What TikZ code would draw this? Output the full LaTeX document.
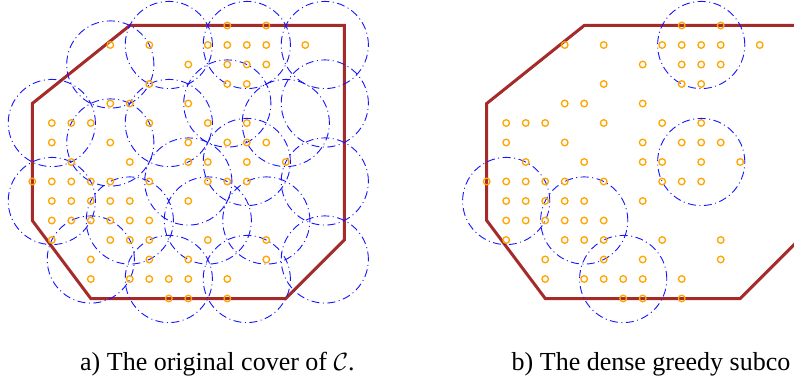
\documentclass[tikz,border=0pt]{standalone}
\usepackage{fontspec}
\setmainfont{Liberation Serif}
\definecolor{ptorange}{RGB}{255,165,0}
\definecolor{polyred}{RGB}{165,42,42}
\definecolor{covblue}{RGB}{20,20,255}
\begin{document}
\begin{tikzpicture}[x=1pt,y=-1pt,
  ptmark/.style={draw=ptorange, line width=1.3pt},
  cov/.style={draw=covblue, line width=0.9pt, dash pattern=on 8pt off 3.5pt on 1pt off 3.5pt},
  poly/.style={draw=polyred, line width=3pt, line join=miter},
  captext/.style={font=\fontsize{26}{30}\selectfont, anchor=base west, inner sep=0pt}]
\useasboundingbox (0,0) rectangle (794,385);
\clip (0,0) rectangle (794,385);
\def\ptlist{10/0,12/0,
 4/1,6/1,9/1,10/1,11/1,12/1,14/1,
 8/2,10/2,11/2,12/2,
 6/3,10/3,11/3,
 4/4,5/4,8/4,
 1/5,2/5,3/5,6/5,9/5,11/5,
 1/6,4/6,8/6,10/6,11/6,12/6,
 2/7,5/7,8/7,9/7,11/7,13/7,
 0/8,1/8,2/8,3/8,4/8,6/8,9/8,10/8,11/8,
 1/9,2/9,3/9,4/9,5/9,8/9,
 1/10,2/10,3/10,4/10,5/10,6/10,
 1/11,4/11,5/11,6/11,9/11,12/11,
 3/12,6/12,8/12,12/12,
 3/13,5/13,6/13,7/13,8/13,10/13,
 7/14,8/14,10/14}
\def\covlista{4/2,7/1,11/1,15/1,1/5,10/4,13/5,15/4,7/5,4/6,11/7,8/8,15/8,1/9,9/10,5/10,12/10,3/12,15/12,7/13,11/13}
\def\covlistb{11/1,11/7,1/9,5/10,7/13}
% panel a
\begin{scope}[shift={(32.3pt,-25.5pt)}, x=19.5pt, y=-19.5pt]
  \draw[poly] (5,0) -- (16,0) -- (16,11) -- (13,14) -- (3,14) -- (0,10) -- (0,4) -- cycle;
  \foreach \k/\j in \covlista \draw[cov] (\k,\j) circle[radius=43.6pt];
  \foreach \k/\j in \ptlist \draw[ptmark] (\k,\j) circle[radius=3.3pt];
\end{scope}
% panel b
\begin{scope}[shift={(486.7pt,-25.5pt)}, x=19.5pt, y=-19.5pt]
  \draw[poly] (5,0) -- (16,0) -- (16,11) -- (13,14) -- (3,14) -- (0,10) -- (0,4) -- cycle;
  \foreach \k/\j in \covlistb \draw[cov] (\k,\j) circle[radius=43.6pt];
  \foreach \k/\j in \ptlist \draw[ptmark] (\k,\j) circle[radius=3.3pt];
\end{scope}
\node[captext] (capa) at (80,370) {a) The original cover of $\mathcal{C}$.};
\node[captext] (capb) at (511.5,370) {b) The dense greedy subco};
\end{tikzpicture}
\end{document}
